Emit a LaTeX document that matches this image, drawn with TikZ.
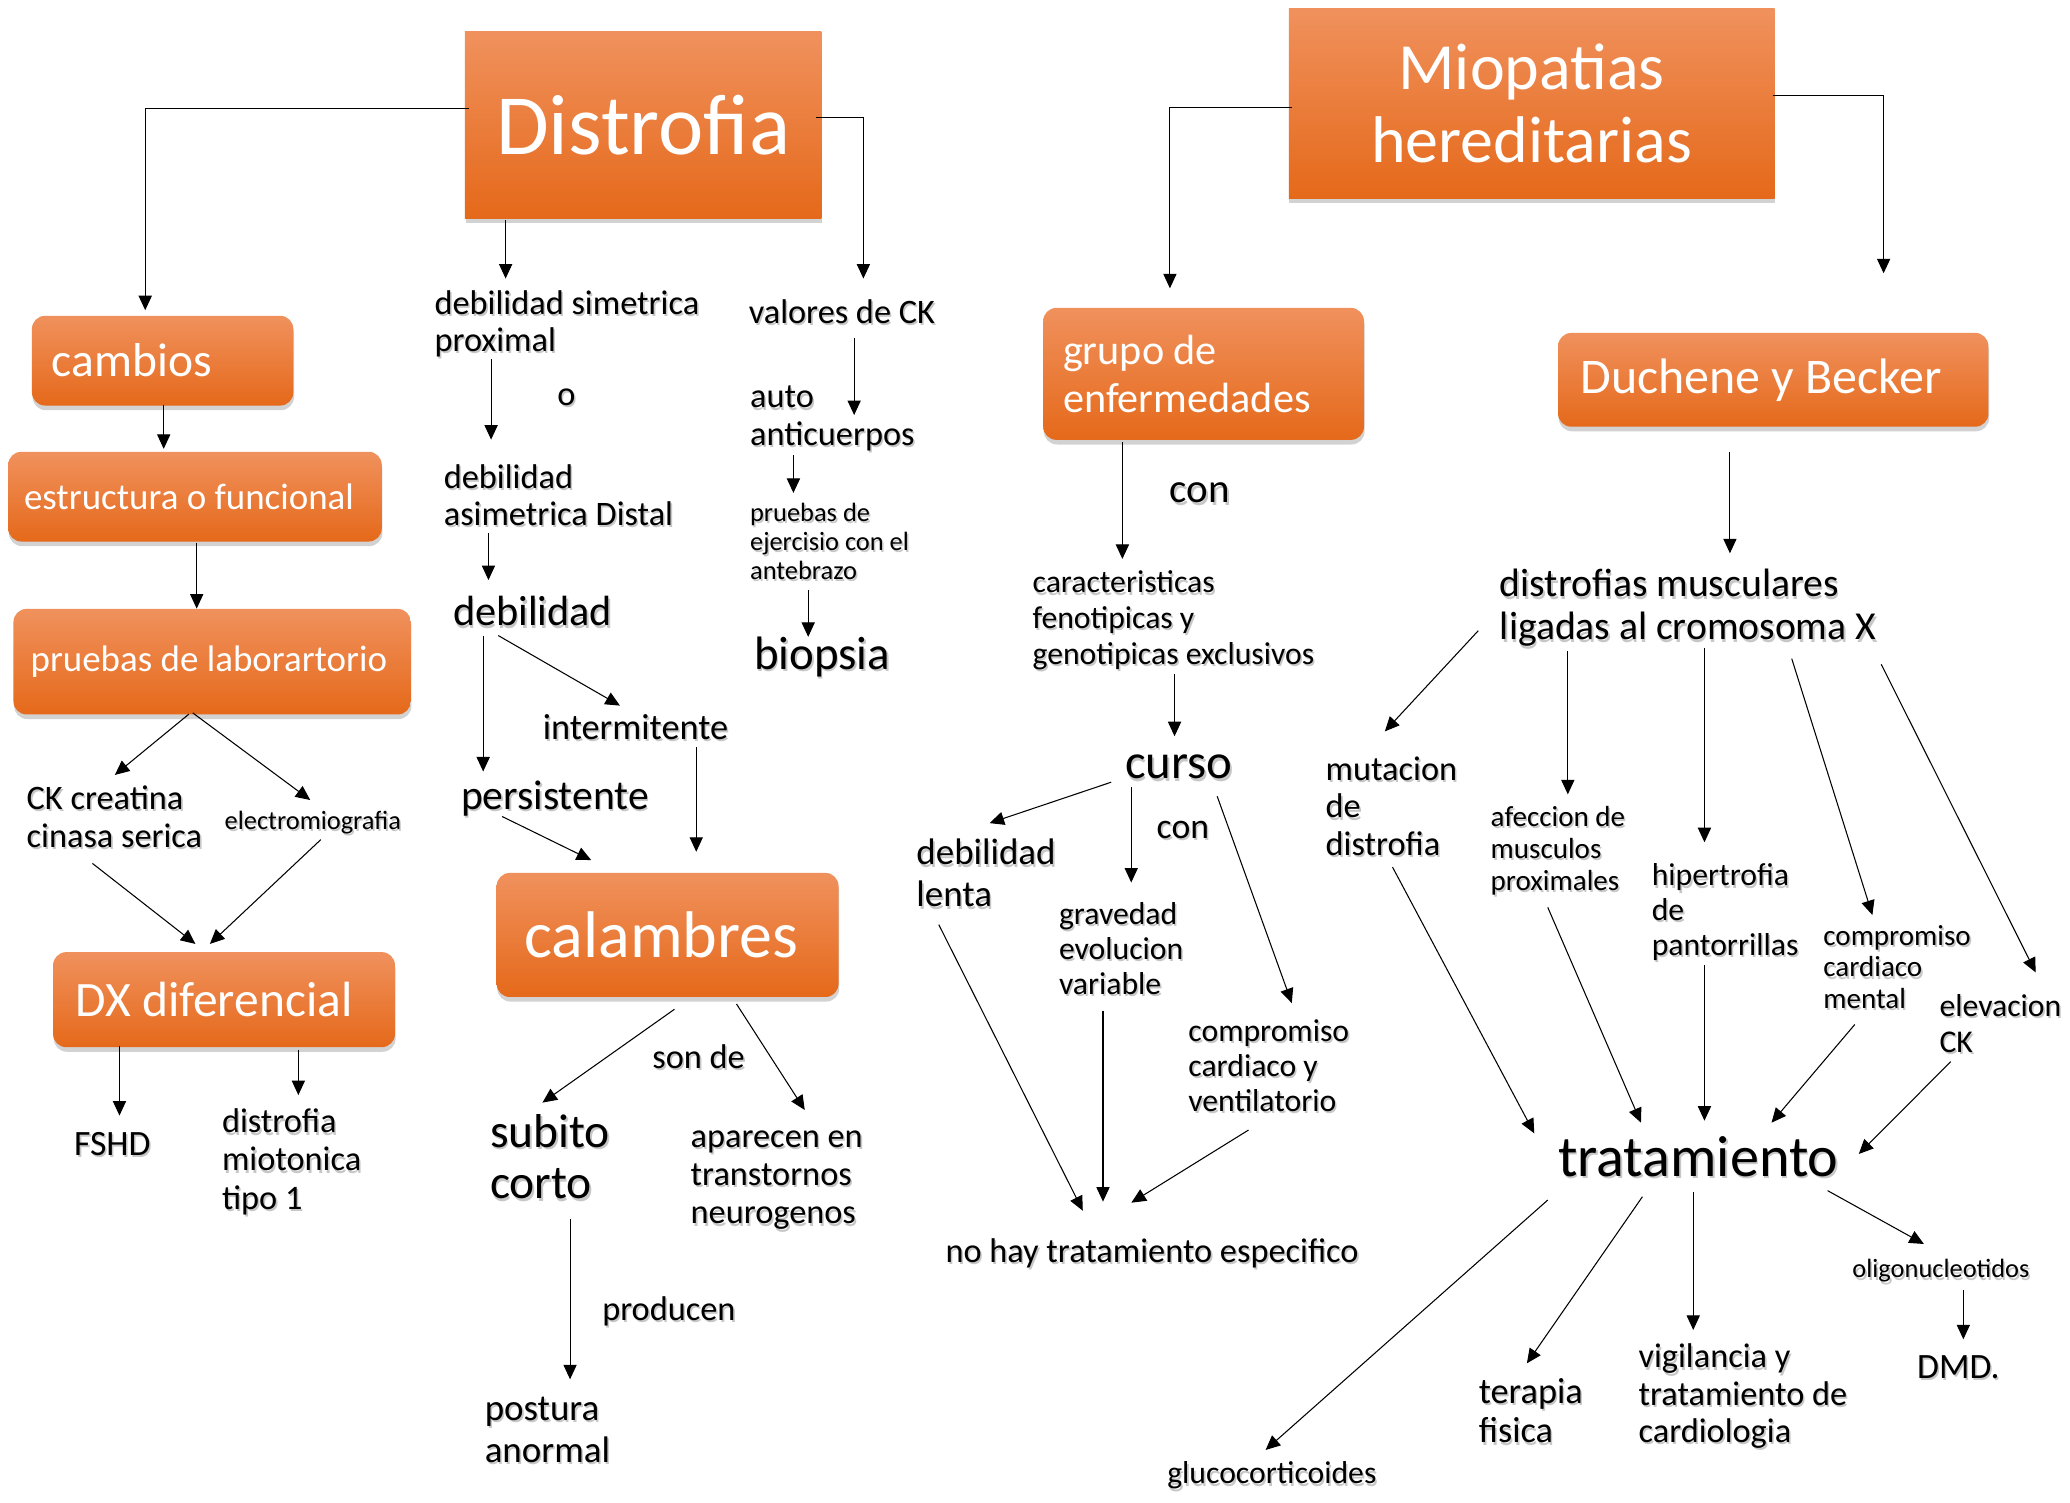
\documentclass[tikz,border=0pt]{standalone}
\usepackage{fontspec}
\setmainfont{Carlito}
\usetikzlibrary{arrows.meta,shadows}
\definecolor{oTop}{HTML}{F0915D}
\definecolor{oMid}{HTML}{F47B2C}
\definecolor{oBot}{HTML}{E5691A}
\newcommand\fs[2]{\fontsize{#1}{#2}\selectfont}
\newcommand\nsp{\spaceskip=0pt\xspaceskip=0pt\relax}
\newcommand\lbl[4]{%
  \node[lblsh,font=#3] at ([shift={(1.2,1.8)}]#2) {\begin{tabular}[t]{@{}l@{}}#4\end{tabular}};
  \node[lbl,font=#3] (#1) at (#2) {\begin{tabular}[t]{@{}l@{}}#4\end{tabular}};}
\begin{document}
\begin{tikzpicture}[x=1pt,y=-1pt,
  arr/.style={-{Triangle[length=11pt,width=10pt]},line width=0.8pt},
  boxb/.style={anchor=north west,top color=oTop,middle color=oMid,bottom color=oBot,
    draw=none,text=white,inner ysep=0pt,align=left,
    drop shadow={shadow xshift=0.5pt,shadow yshift=-3.5pt,opacity=0.35}},
  rbox/.style={boxb,rounded corners=10pt},
  sqbox/.style={boxb},
  lbl/.style={anchor=base west,inner sep=0pt,text=black},
  lblsh/.style={anchor=base west,inner sep=0pt,text=black,text opacity=0.22}]
\fill[white] (0,0) rectangle (1568,1137.75);
\useasboundingbox (0,0) rectangle (1568,1137.75);

% ---- boxes ----
\node[sqbox,minimum width=270pt,minimum height=141pt,text width=260pt,inner xsep=5pt,align=center,font=\fs{65}{70}] (dist) at (352,24) {Distrofia};
\node[sqbox,minimum width=368pt,minimum height=144pt,text width=358pt,inner xsep=5pt,align=center,font=\fs{50}{55}] (miop) at (976,6) {Miopatias\\hereditarias};
\node[rbox,minimum width=198pt,minimum height=68pt,text width=168pt,inner xsep=15pt,font=\fs{36}{40}] (camb) at (24,239) {\nsp\mbox{cambios}};
\node[rbox,minimum width=283pt,minimum height=68pt,text width=259pt,inner xsep=12pt,font=\fs{28}{32}] (estr) at (6,342) {\nsp\mbox{estructura o funcional}};
\node[rbox,minimum width=301pt,minimum height=80pt,text width=275pt,inner xsep=13pt,font=\fs{28}{32}] (prue) at (10,461) {\nsp\mbox{pruebas de laborartorio}};
\node[rbox,minimum width=259pt,minimum height=72pt,text width=225pt,inner xsep=17pt,font=\fs{37.5}{41}] (dx) at (40,721) {\nsp\mbox{DX diferencial}};
\node[rbox,minimum width=259pt,minimum height=94pt,text width=217pt,inner xsep=21pt,font=\fs{50}{54}] (cal) at (376,661) {\nsp\mbox{calambres}};
\node[rbox,minimum width=243pt,minimum height=100pt,text width=213pt,inner xsep=15pt,font=\fs{32}{36}] (grupo) at (790,233) {\nsp grupo de\\enfermedades};
\node[rbox,minimum width=326pt,minimum height=71pt,text width=292pt,inner xsep=17pt,font=\fs{37.8}{41}] (duch) at (1180,252) {\nsp\mbox{Duchene y Becker}};

% ---- left labels ----
\lbl{dsim}{329,238}{\fs{26}{28}}{debilidad simetrica\\proximal}
\lbl{oo}{422,307}{\fs{26}{28}}{o}
\lbl{dasim}{336,370}{\fs{26}{28}}{debilidad\\asimetrica Distal}
\lbl{deb}{343,474}{\fs{32}{36}}{debilidad}
\lbl{inter}{411,560}{\fs{27.5}{30}}{intermitente}
\lbl{pers}{349,613}{\fs{31.5}{35}}{persistente}
\lbl{valores}{567,245}{\fs{26}{28}}{valores de CK}
\lbl{auto}{568,309}{\fs{26}{28.5}}{auto\\anticuerpos}
\lbl{pej}{568,395}{\fs{20}{21.8}}{pruebas de\\ejercisio con el\\antebrazo}
\lbl{biop}{571,507}{\fs{35.5}{40}}{biopsia}
\lbl{ck}{20,613}{\fs{26}{29}}{CK creatina\\cinasa serica}
\lbl{emg}{170,628}{\fs{20}{22}}{electromiografia}
\lbl{fshd}{56,875}{\fs{27}{30}}{FSHD}
\lbl{dmio}{168,858}{\fs{26}{29}}{distrofia\\miotonica\\tipo 1}
\lbl{sonde}{494,809}{\fs{26}{29}}{son de}
\lbl{subito}{371,869}{\fs{36}{39}}{subito\\corto}
\lbl{apar}{523,869}{\fs{26}{29}}{aparecen en\\transtornos\\neurogenos}
\lbl{prod}{456,1000}{\fs{26}{29}}{producen}
\lbl{post}{367,1076}{\fs{28}{31.5}}{postura\\anormal}

% ---- right labels ----
\lbl{con1}{886,381}{\fs{31}{34}}{con}
\lbl{car}{782,449}{\fs{24}{27}}{caracteristicas\\fenotipicas y\\genotipicas exclusivos}
\lbl{curso}{852,590}{\fs{37}{40}}{curso}
\lbl{con2}{876,635}{\fs{27}{30}}{con}
\lbl{dlenta}{694,655}{\fs{28}{32}}{debilidad\\lenta}
\lbl{grav}{802,700}{\fs{24}{26.5}}{gravedad\\evolucion\\variable}
\lbl{comp}{900,789}{\fs{24}{26.5}}{compromiso\\cardiaco y\\ventilatorio}
\lbl{nohay}{716,956}{\fs{26}{29}}{no hay tratamiento especifico}
\lbl{dml}{1136,452}{\fs{30}{32.5}}{distrofias musculares\\ligadas al cromosoma X}
\lbl{mut}{1004,591}{\fs{26}{28.5}}{mutacion\\de\\distrofia}
\lbl{afec}{1129,626}{\fs{22}{24.3}}{afeccion de\\musculos\\proximales}
\lbl{hip}{1251,671}{\fs{24}{26.3}}{hipertrofia\\de\\pantorrillas}
\lbl{cmen}{1381,716}{\fs{22}{24}}{compromiso\\cardiaco\\mental}
\lbl{elev}{1469,770}{\fs{24}{27}}{elevacion\\CK}
\lbl{trat}{1180,891}{\fs{44}{48}}{tratamiento}
\lbl{oligo}{1403,968}{\fs{20}{22}}{oligonucleotidos}
\lbl{dmd}{1452,1044}{\fs{27}{30}}{DMD.}
\lbl{gluco}{884,1124}{\fs{24}{27}}{glucocorticoides}
\lbl{terapia}{1120,1063}{\fs{27.5}{30}}{terapia\\fisica}
\lbl{vig}{1241,1036}{\fs{26}{28.3}}{vigilancia y\\tratamiento de\\cardiologia}

% ---- left connectors ----
\draw[arr] ([shift={(3,58)}]dist.north west) -| ([shift={(86,-4)}]camb.north west);
\draw[arr] ([shift={(266,65)}]dist.north west) -| ([shift={(87,-34)}]valores.base west);
\draw[arr] ([shift={(31,143)}]dist.north west) -- ([shift={(54,-27)}]dsim.base west);
\draw[arr] ([shift={(100,68)}]camb.north west) -- ([shift={(118,-2)}]estr.north west);
\draw[arr] ([shift={(143,69)}]estr.north west) -- ([shift={(139,0)}]prue.north west);
\draw[arr] ([shift={(133,80)}]prue.north west) -- ([shift={(67,-26)}]ck.base west);
\draw[arr] ([shift={(136,79)}]prue.north west) -- ([shift={(65,-22)}]emg.base west);
\draw[arr] ([shift={(50,41)}]ck.base west) -- ([shift={(108,-6)}]dx.north west);
\draw[arr] ([shift={(73,8)}]emg.base west) -- ([shift={(119,-6)}]dx.north west);
\draw[arr] ([shift={(50.5,71)}]dx.north west) -- ([shift={(34.5,-30)}]fshd.base west);
\draw[arr] ([shift={(186,74)}]dx.north west) -- ([shift={(58,-28.5)}]dmio.base west);
\draw[arr] ([shift={(43,34)}]dsim.base west) -- ([shift={(36,-37)}]dasim.base west);
\draw[arr] ([shift={(34,34)}]dasim.base west) -- ([shift={(27,-34.6)}]deb.base west);
\draw[arr] ([shift={(23,7.4)}]deb.base west) -- ([shift={(17,-28.6)}]pers.base west);
\draw[arr] ([shift={(34.4,7.4)}]deb.base west) -- ([shift={(58.6,-25.5)}]inter.base west);
\draw[arr] ([shift={(31.4,5.5)}]pers.base west) -- ([shift={(71.8,-9.5)}]cal.north west);
\draw[arr] ([shift={(116.4,5.5)}]inter.base west) -- ([shift={(151.4,-15.8)}]cal.north west);
\draw[arr] ([shift={(134.9,103.5)}]cal.north west) -- ([shift={(39.9,-33.8)}]subito.base west);
\draw[arr] ([shift={(181.9,99.5)}]cal.north west) -- ([shift={(86.6,-28.2)}]apar.base west);
\draw[arr] ([shift={(60.8,54.6)}]subito.base west) -- ([shift={(64.8,-31.2)}]post.base west);
\draw[arr] ([shift={(80,11)}]valores.base west) -- ([shift={(79,5.4)}]auto.base west);
\draw[arr] ([shift={(33,36)}]auto.base west) -- ([shift={(33,-21.6)}]pej.base west);
\draw[arr] ([shift={(44.2,51.7)}]pej.base west) -- ([shift={(41.2,-24.6)}]biop.base west);

% ---- right connectors ----
\draw[arr] ([shift={(2.5,75.6)}]miop.north west) -| ([shift={(96.2,-14.6)}]grupo.north west);
\draw[arr] ([shift={(367,66)}]miop.north west) -| ([shift={(246.8,-45)}]duch.north west);
\draw[arr] ([shift={(60.2,102)}]grupo.north west) -- ([shift={(68.2,-25.6)}]car.base west);
\draw[arr] ([shift={(107.7,61.5)}]car.base west) -- ([shift={(37.7,-32.3)}]curso.base west);
\draw[arr] ([shift={(-10.3,2.5)}]curso.base west) -- ([shift={(55.6,-31.5)}]dlenta.base west);
\draw[arr] ([shift={(4.9,6)}]curso.base west) -- ([shift={(54.9,-31.5)}]grav.base west);
\draw[arr] ([shift={(70,13.2)}]curso.base west) -- ([shift={(78.5,-29.2)}]comp.base west);
\draw[arr] ([shift={(17.1,45.4)}]dlenta.base west) -- ([shift={(104.2,-38.9)}]nohay.base west);
\draw[arr] ([shift={(33.5,65.6)}]grav.base west) -- ([shift={(119.5,-45.8)}]nohay.base west);
\draw[arr] ([shift={(45.7,67)}]comp.base west) -- ([shift={(141,-45)}]nohay.base west);
\draw[arr] ([shift={(130.4,90)}]duch.north west) -- ([shift={(174.4,-32.9)}]dml.base west);
\draw[arr] ([shift={(-16.2,25.7)}]dml.base west) -- ([shift={(45,-37)}]mut.base west);
\draw[arr] ([shift={(51.6,41.1)}]dml.base west) -- ([shift={(58.6,-24.3)}]afec.base west);
\draw[arr] ([shift={(155.1,39)}]dml.base west) -- ([shift={(40.1,-33)}]hip.base west);
\draw[arr] ([shift={(221.2,46.9)}]dml.base west) -- ([shift={(37.3,-22.9)}]cmen.base west);
\draw[arr] ([shift={(289,51.2)}]dml.base west) -- ([shift={(73,-33.4)}]elev.base west);
\draw[arr] ([shift={(50.8,65.8)}]mut.base west) -- ([shift={(-17.8,-32.5)}]trat.base west);
\draw[arr] ([shift={(43.4,61.3)}]afec.base west) -- ([shift={(63,-40.6)}]trat.base west);
\draw[arr] ([shift={(40.1,59.7)}]hip.base west) -- ([shift={(111.1,-42.1)}]trat.base west);
\draw[arr] ([shift={(24,60)}]cmen.base west) -- ([shift={(161.9,-40.6)}]trat.base west);
\draw[arr] ([shift={(8.6,34.2)}]elev.base west) -- ([shift={(228,-16.9)}]trat.base west);
\draw[arr] ([shift={(-7.6,18)}]trat.base west) -- ([shift={(74.7,-25.7)}]gluco.base west);
\draw[arr] ([shift={(64.1,15.5)}]trat.base west) -- ([shift={(36.6,-30.3)}]terapia.base west);
\draw[arr] ([shift={(102.6,11.7)}]trat.base west) -- ([shift={(41.6,-28.6)}]vig.base west);
\draw[arr] ([shift={(204.4,10.9)}]trat.base west) -- ([shift={(54.3,-25.7)}]oligo.base west);
\draw[arr] ([shift={(84.2,9.1)}]oligo.base west) -- ([shift={(35.2,-29.5)}]dmd.base west);
\end{tikzpicture}
\end{document}
